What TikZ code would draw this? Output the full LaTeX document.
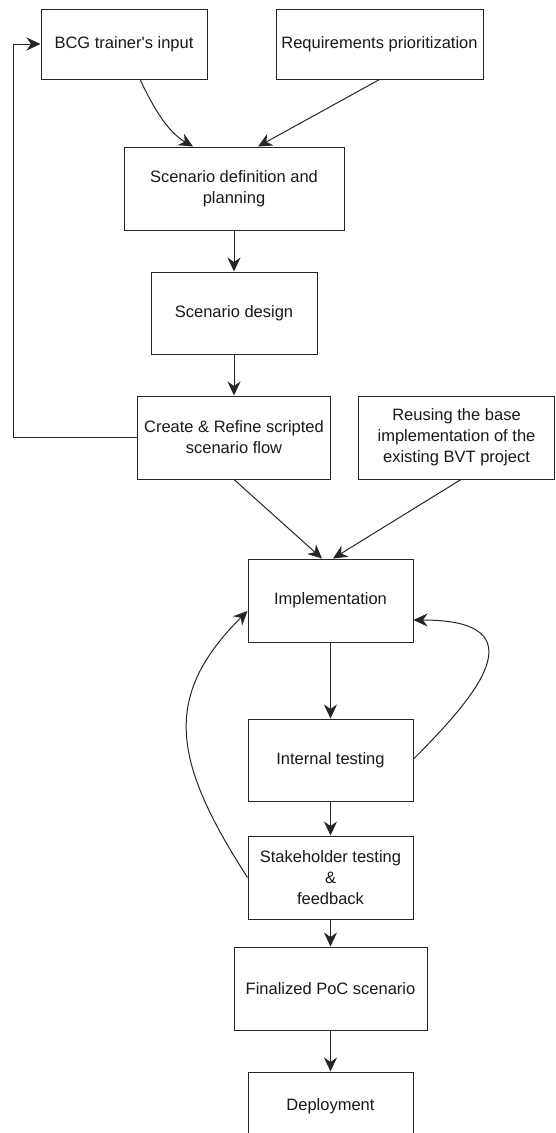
\documentclass[tikz,border=0pt]{standalone}
\usepackage{fontspec}
\setmainfont{Liberation Sans}
\usetikzlibrary{positioning, arrows.meta}
\tikzset{
  box/.style={rectangle, draw=black!85, fill=white, line width=1pt,
              minimum width=165pt, minimum height=83pt, inner sep=2pt,
              align=center, text=black!90, font=\fontsize{16.5}{21}\selectfont},
  arr/.style={-{Stealth[length=14pt, width=13pt, inset=4.5pt]}, line width=1pt, color=black!85},
}
\begin{document}
\begin{tikzpicture}[x=1pt, y=-1pt, node distance=41pt and 27pt]
    \useasboundingbox (0,0) rectangle (555,1133);
    \clip (0,0) rectangle (555,1133);
    \fill[white] (0,0) rectangle (555,1133);
    \node[box, minimum width=166pt, minimum height=70pt] (bcg) at (124,44)
          {BCG trainer\textquotesingle s input};
    \node[box, minimum width=207pt, minimum height=70pt, right=68pt of bcg] (req)
          {Requirements prioritization};
    \node[box, minimum width=220pt] (sdef) at (234,188.5)
          {Scenario definition and\\planning};
    \node[box, minimum width=166pt, minimum height=82pt, below=of sdef] (sdes)
          {Scenario design};
    \node[box, minimum width=193pt, below=of sdes] (create)
          {Create \& Refine scripted\\scenario flow};
    \node[box, minimum width=196pt, right=of create] (reuse)
          {Reusing the base\\implementation of the\\existing BVT project};
    \node[box] (impl) at (330.5,600.5) {Implementation};
    \node[box, minimum height=82pt, below=76pt of impl] (itest) {Internal testing};
    \node[box, below=34pt of itest] (stake) {Stakeholder testing\\\&\\feedback};
    \node[box, minimum width=193pt, below=27pt of stake] (final) {Finalized PoC scenario};
    \node[box, minimum height=68pt, below=of final] (deploy) {Deployment};
    \draw[arr] (sdef)--(sdes);
    \draw[arr] (sdes)--(create);
    \draw[arr] (create.west)--++(-124,0)|-(bcg.west);
    \draw[arr] ([xshift=16pt]bcg.south) .. controls +(13,27) and +(-26,-15) .. ([xshift=-41pt]sdef.north);
    \draw[arr] (req.south)--([xshift=24pt]sdef.north);
    \draw[arr] (create.south)--([xshift=-8.5pt]impl.north);
    \draw[arr] ([xshift=4.5pt]reuse.south)--([xshift=2.5pt]impl.north);
    \draw[arr] (impl)--(itest);
    \draw[arr] (itest)--(stake);
    \draw[arr] (stake)--(final);
    \draw[arr] (final)--(deploy);
    \draw[arr] ([yshift=1pt]itest.east) .. controls +(60,-60) and +(130,0) .. ([yshift=-19.5pt]impl.east);
    \draw[arr] (stake.west) .. controls +(-76,-118) and +(-85,85) .. ([yshift=-10.5pt]impl.west);
  \end{tikzpicture}
\end{document}
